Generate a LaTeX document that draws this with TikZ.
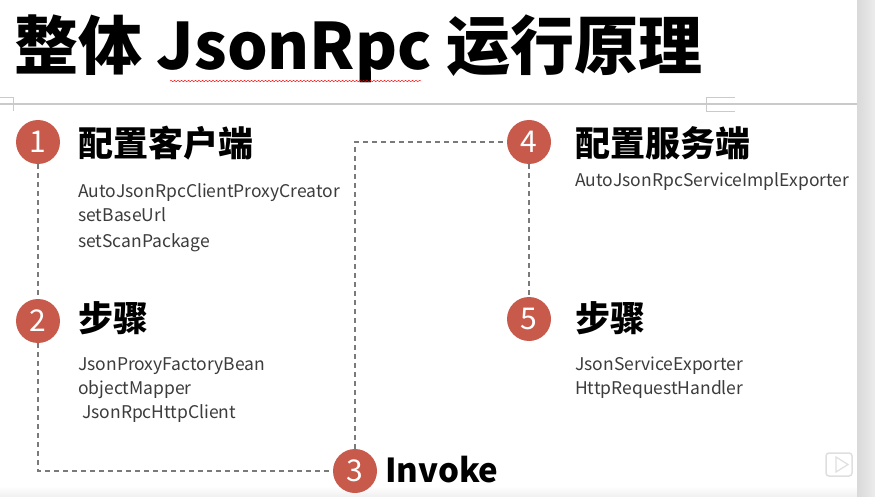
\documentclass[tikz,border=0pt]{standalone}
\usepackage{fontspec}
\setmainfont{Noto Sans CJK SC}
\usetikzlibrary{decorations.pathmorphing}
\usepackage{xcolor}
\definecolor{stepred}{HTML}{C75A4B}
\definecolor{linegray}{HTML}{7A7A7A}
\definecolor{textgray}{HTML}{3C3C3C}
\definecolor{pagegray}{HTML}{CACACA}

\tikzset{
    stepnum/.style={circle,fill=stepred,text=white,minimum size=44pt,inner sep=0pt,font=\fontsize{30}{30}\selectfont},
    steptitle/.style={anchor=base west,inner sep=0pt,font=\fontsize{35}{35}\selectfont\bfseries},
    apiname/.style={anchor=base west,inner sep=0pt,text=textgray,font=\fontsize{17.5}{17.5}\selectfont},
    flow/.style={draw=linegray,line width=1.4pt,dash pattern=on 5pt off 4pt},
}

\begin{document}
\begin{tikzpicture}[x=1pt,y=-1pt]
        \useasboundingbox (0,0) rectangle (875,497);
        \fill[white] (0,0) rectangle (875,497);
        % page frame of the document view
        \shade[top color=white,bottom color=gray!12] (0,486) rectangle (857,497);
        \shade[left color=gray!30,right color=gray!15] (857,0) rectangle (875,497);
        \draw[pagegray,line width=1.5pt] (0,104) -- (857,104);
        \draw[pagegray] (0,97) -- (13,97) -- (13,111);
        \draw[pagegray] (735,97) -- (706,97) -- (706,111) -- (735,111);
        \draw[gray!25,line width=1.5pt,rounded corners=3pt] (826,453) rectangle (852,476);
        \draw[gray!25,line width=1.2pt] (836,457) -- (848,464.5) -- (836,472) -- cycle;

        \node[anchor=base west,inner sep=0pt,font=\fontsize{64}{64}\selectfont\bfseries] (title) at (14,70) {整体 JsonRpc 运行原理};
        \draw[red,decorate,decoration={snake,amplitude=0.8pt,segment length=3.5pt}] (170,81) -- (421,81);

        \node[stepnum] (s1) at (38,142) {1};
        \node[stepnum] (s2) at (38,321) {2};
        \node[stepnum] (s3) at (355,471) {3};
        \node[stepnum] (s4) at (529,142) {4};
        \node[stepnum] (s5) at (529,319) {5};

        \node[steptitle] (t1) at (78,157) {配置客户端};
        \node[steptitle] (t2) at (78,331) {步骤};
        \node[steptitle,font=\fontsize{33}{33}\selectfont\bfseries] (t3) at (385,482) {Invoke};
        \node[steptitle] (t4) at (575,157) {配置服务端};
        \node[steptitle] (t5) at (575,331) {步骤};

        \foreach \txt [count=\i] in {AutoJsonRpcClientProxyCreator,setBaseUrl,setScanPackage}
            \node[apiname] (a1\i) at (78,{172+25*\i}) {\txt};
        \foreach \txt [count=\i] in {JsonProxyFactoryBean,objectMapper,\hspace{4pt}JsonRpcHttpClient}
            \node[apiname] (a2\i) at (78,{346+24*\i}) {\txt};
        \node[apiname] (a41) at (575,187) {AutoJsonRpcServiceImplExporter};
        \foreach \txt [count=\i] in {JsonServiceExporter,HttpRequestHandler}
            \node[apiname] (a5\i) at (575,{346+24*\i}) {\txt};

        % the path of a call
        \draw[flow] (s1) -- (s2);
        \draw[flow] (s2) |- (s3);
        \draw[flow] (s3) |- (s4);
        \draw[flow] (s4) -- (s5);
    \end{tikzpicture}
\end{document}
